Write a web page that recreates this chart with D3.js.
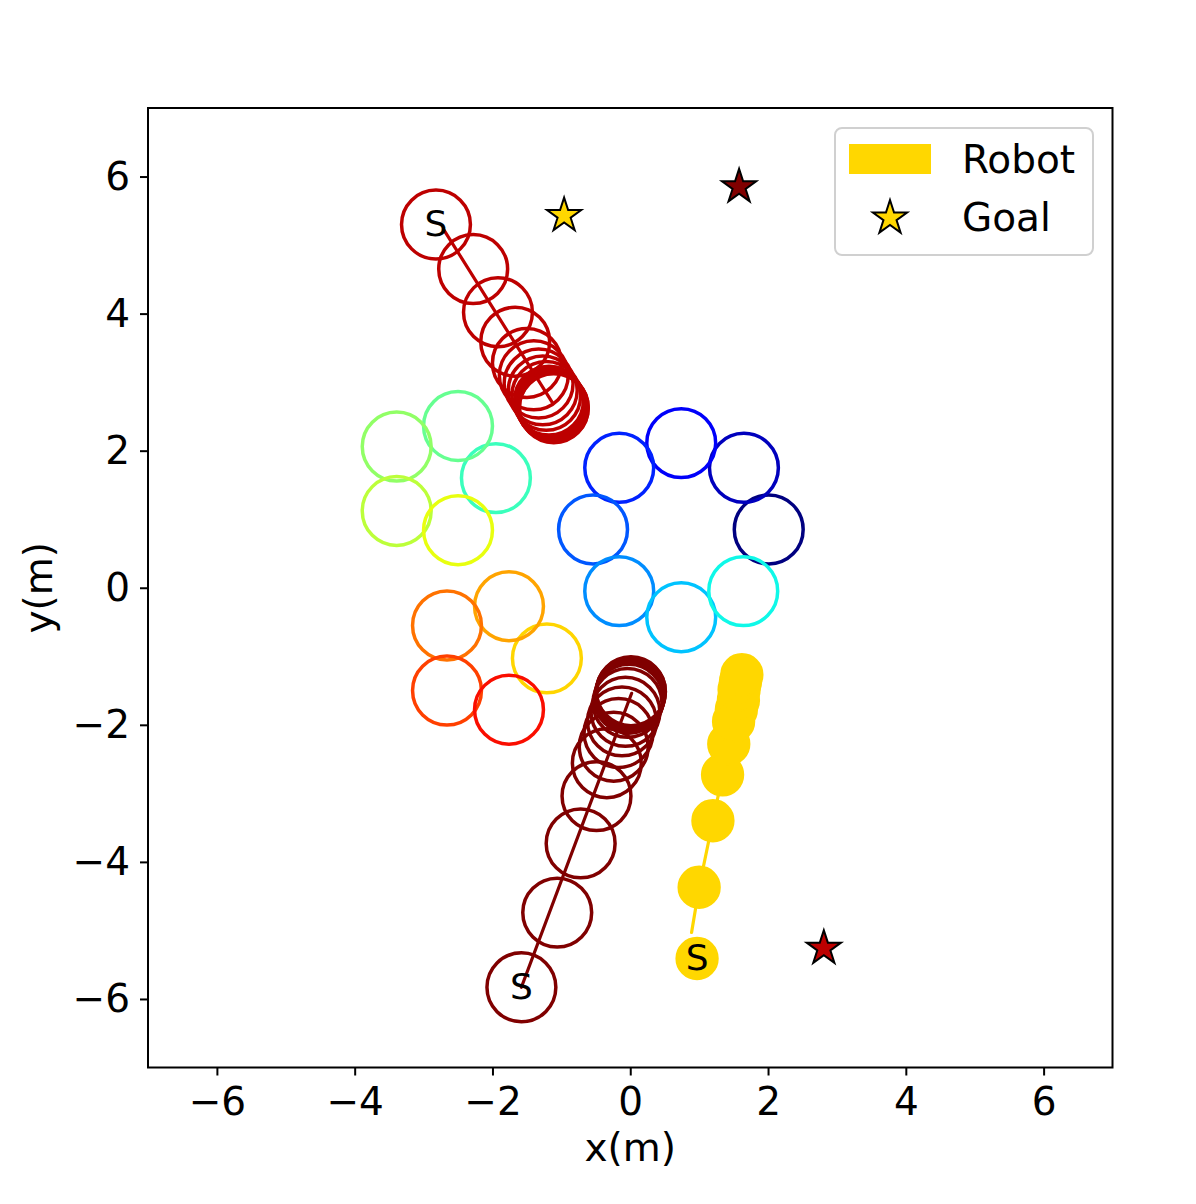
<!DOCTYPE html>
<html>
<head>
<meta charset="utf-8">
<script src="https://cdn.jsdelivr.net/npm/d3@7"></script>
<style>
  body { margin: 0; background: #fff; }
  svg { display: block; font-family: "DejaVu Sans", sans-serif; }
</style>
</head>
<body>
<div class="chart"></div>
<script>
// static agents (jet index 0..17), centre positions in metres
const ringIds = [0, 1, 2, 3, 4, 5, 6, 7, 8, 9, 10, 11, 12, 13, 14, 15, 16, 17];
const ringX = [2.01, 1.65, 0.74, -0.16, -0.54, -0.16, 0.74, 1.64,
               -1.95, -2.50, -3.39, -3.39, -2.50,
               -1.21, -1.76, -2.66, -2.66, -1.76];
const ringY = [0.85, 1.75, 2.11, 1.75, 0.85, -0.05, -0.43, -0.05,
               1.60, 2.36, 2.06, 1.12, 0.84,
               -1.03, -0.27, -0.55, -1.50, -1.78];

// moving agent 18 (red, starts top left)
const redX = [-2.82, -2.28, -1.92, -1.67, -1.50, -1.40, -1.33, -1.27, -1.22, -1.18, -1.16, -1.15, -1.14, -1.13, -1.12, -1.11, -1.11];
const redY = [5.30, 4.65, 4.02, 3.59, 3.28, 3.10, 2.98, 2.88, 2.80, 2.73, 2.70, 2.68, 2.66, 2.65, 2.64, 2.63, 2.62];
const redTrackX = [-2.71, -1.13];
const redTrackY = [5.23, 2.70];

// moving agent 19 (dark red, starts bottom)
const darkX = [-1.58, -1.06, -0.72, -0.49, -0.34, -0.24, -0.17, -0.12, -0.07, -0.04, -0.02, -0.01, 0.00, 0.00, 0.01, 0.01];
const darkY = [-5.83, -4.74, -3.73, -3.04, -2.56, -2.32, -2.12, -1.95, -1.81, -1.68, -1.62, -1.59, -1.56, -1.54, -1.52, -1.51];
const darkTrackX = [-1.58, 0.02];
const darkTrackY = [-5.83, -1.54];

// robot
const robotX = [0.97, 1.00, 1.20, 1.34, 1.43, 1.50, 1.54, 1.57, 1.58, 1.60, 1.62];
const robotY = [-5.41, -4.37, -3.40, -2.73, -2.28, -1.95, -1.78, -1.64, -1.49, -1.37, -1.27];
const robotTrackX = [0.89, 1.00, 1.20, 1.34, 1.43, 1.50, 1.54, 1.57, 1.58, 1.60, 1.62];
const robotTrackY = [-5.03, -4.37, -3.40, -2.73, -2.28, -1.95, -1.78, -1.64, -1.49, -1.37, -1.27];

// goals
const goalX = [-0.96, 1.58, 2.81];
const goalY = [5.43, 5.85, -5.26];
const goalOwner = ["robot", 19, 18];

const ticks = [-6, -4, -2, 0, 2, 4, 6];
const legendLabels = ["Robot", "Goal"];

const nAgents = 20;
const agentRadius = 0.5, robotRadius = 0.3;
const robotColor = "#ffd700";

const width = 1196, height = 1204;
const svg = d3.select(".chart").append("svg")
    .attr("width", width)
    .attr("height", height);

const x = d3.scaleLinear().domain([-7, 7]).range([148, 1112.5]);
const y = d3.scaleLinear().domain([-7, 7]).range([1067.5, 108]);
const rpx = v => x(v) - x(0);

// matplotlib jet colormap
const jetR = d3.scaleLinear().domain([0, 0.35, 0.66, 0.89, 1]).range([0, 0, 1, 1, 0.5]);
const jetG = d3.scaleLinear().domain([0, 0.125, 0.375, 0.64, 0.91, 1]).range([0, 0, 1, 1, 0, 0]);
const jetB = d3.scaleLinear().domain([0, 0.11, 0.34, 0.65, 1]).range([0.5, 1, 1, 0, 0]);
const jet = t => d3.rgb(255 * jetR(t), 255 * jetG(t), 255 * jetB(t)).formatHex();
const agentColor = i => jet(i / (nAgents - 1));

const plot = svg.append("g");

// static agents
plot.selectAll("circle.ring")
    .data(ringIds)
    .enter()
    .append("circle")
        .attr("class", "ring")
        .attr("cx", (d, i) => x(ringX[i]))
        .attr("cy", (d, i) => y(ringY[i]))
        .attr("r", rpx(agentRadius))
        .attr("fill", "none")
        .attr("stroke", d => agentColor(d))
        .attr("stroke-width", 3.5);

const line = d3.line().x(d => x(d[0])).y(d => y(d[1]));

function drawMover(xs, ys, txs, tys, color) {
    const pts = xs.map((v, i) => [v, ys[i]]);
    plot.append("path")
        .attr("d", line(txs.map((v, i) => [v, tys[i]])))
        .attr("fill", "none")
        .attr("stroke", color)
        .attr("stroke-width", 3.2)
        .attr("stroke-linecap", "round");
    plot.selectAll(null)
        .data(pts)
        .enter()
        .append("circle")
            .attr("cx", d => x(d[0]))
            .attr("cy", d => y(d[1]))
            .attr("r", rpx(agentRadius))
            .attr("fill", "none")
            .attr("stroke", color)
            .attr("stroke-width", 3.5);
}

drawMover(redX, redY, redTrackX, redTrackY, agentColor(18));
drawMover(darkX, darkY, darkTrackX, darkTrackY, agentColor(19));

// robot
plot.append("path")
    .attr("d", line(robotTrackX.map((v, i) => [v, robotTrackY[i]])))
    .attr("fill", "none")
    .attr("stroke", robotColor)
    .attr("stroke-width", 3.2)
    .attr("stroke-linecap", "round");
plot.selectAll(null)
    .data(robotX.map((v, i) => [v, robotY[i]]))
    .enter()
    .append("circle")
        .attr("cx", d => x(d[0]))
        .attr("cy", d => y(d[1]))
        .attr("r", rpx(robotRadius))
        .attr("fill", robotColor)
        .attr("stroke", robotColor)
        .attr("stroke-width", 2);

// start labels
const starts = [[redX[0], redY[0]], [darkX[0], darkY[0]], [robotX[0], robotY[0]]];
plot.selectAll("text.start")
    .data(starts)
    .enter()
    .append("text")
        .attr("class", "start")
        .attr("x", d => x(d[0]))
        .attr("y", d => y(d[1]))
        .attr("dy", "0.33em")
        .attr("text-anchor", "middle")
        .style("font-size", "36px")
        .text("S");

// goals
const star = d3.symbol().type(d3.symbolStar).size(364);
const goalColor = o => o === "robot" ? robotColor : agentColor(o);
plot.selectAll("path.goal")
    .data(goalOwner)
    .enter()
    .append("path")
        .attr("class", "goal")
        .attr("d", star)
        .attr("transform", (d, i) => `translate(${x(goalX[i])},${y(goalY[i])})`)
        .attr("fill", d => goalColor(d))
        .attr("stroke", "#000")
        .attr("stroke-width", 2)
        .attr("stroke-linejoin", "miter");

// axes
const xAxis = svg.append("g")
    .attr("transform", `translate(0,${y(-7)})`)
    .call(d3.axisBottom(x).tickValues(ticks).tickSize(8).tickSizeOuter(0).tickPadding(12));
const yAxis = svg.append("g")
    .attr("transform", `translate(${x(-7)},0)`)
    .call(d3.axisLeft(y).tickValues(ticks).tickSize(8).tickSizeOuter(0).tickPadding(10));
[xAxis, yAxis].forEach(a => {
    a.select(".domain").remove();
    a.selectAll(".tick line").attr("stroke", "#000").attr("stroke-width", 2);
    a.selectAll(".tick text")
        .attr("fill", "#000")
        .style("font-size", "39px")
        .style("font-family", "'DejaVu Sans', sans-serif");
});

svg.append("rect")
    .attr("x", x(-7))
    .attr("y", y(7))
    .attr("width", x(7) - x(-7))
    .attr("height", y(-7) - y(7))
    .attr("fill", "none")
    .attr("stroke", "#000")
    .attr("stroke-width", 2);

svg.append("text")
    .attr("x", x(0))
    .attr("y", 1161)
    .attr("text-anchor", "middle")
    .style("font-size", "39px")
    .text("x(m)");

svg.append("text")
    .attr("transform", `translate(52,${y(0)}) rotate(-90)`)
    .attr("text-anchor", "middle")
    .style("font-size", "39px")
    .text("y(m)");

// legend
const legend = svg.append("g").attr("transform", "translate(835,128)");
legend.append("rect")
    .attr("width", 258)
    .attr("height", 127)
    .attr("rx", 7)
    .attr("fill", "#fff")
    .attr("fill-opacity", 0.8)
    .attr("stroke", "#d0d0d0")
    .attr("stroke-width", 2);
legend.append("rect")
    .attr("x", 14)
    .attr("y", 16)
    .attr("width", 82)
    .attr("height", 30)
    .attr("fill", robotColor);
legend.append("path")
    .attr("d", star)
    .attr("transform", "translate(55,90)")
    .attr("fill", robotColor)
    .attr("stroke", "#000")
    .attr("stroke-width", 2);
legend.selectAll("text")
    .data(legendLabels)
    .enter()
    .append("text")
        .attr("x", 127)
        .attr("y", (d, i) => 45 + i * 58)
        .style("font-size", "39px")
        .text(d => d);
</script>
</body>
</html>
